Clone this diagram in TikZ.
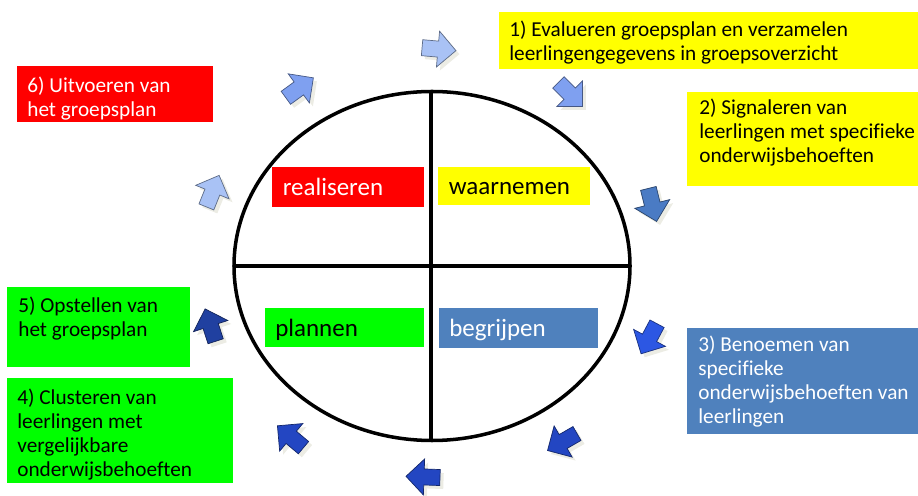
\documentclass[tikz,border=0pt]{standalone}
\usepackage{fontspec}
\setmainfont{Carlito}[Ligatures=NoCommon]
\definecolor{PlanRed}{HTML}{FF0000}
\definecolor{PlanYellow}{HTML}{FFFF00}
\definecolor{PlanGreen}{HTML}{00FF00}
\definecolor{PlanSteel}{HTML}{4F81BD}
\definecolor{ArrowPale}{HTML}{A9C2F5}
\definecolor{ArrowLight}{HTML}{7FA0F0}
\definecolor{ArrowSteel}{HTML}{4A7BC4}
\definecolor{ArrowBright}{HTML}{2C57E3}
\definecolor{ArrowRoyal}{HTML}{2346C2}
\definecolor{ArrowDeep}{HTML}{2040A0}
\definecolor{ArrowShade}{HTML}{ECECE4}

\begin{document}
\begin{tikzpicture}[font=\fontsize{12.1}{13.6}\selectfont,
  stage/.style={anchor=north west,align=left,inner sep=0pt},
  phase/.style={anchor=base west,inner sep=0pt,font=\fontsize{14.2}{17}\selectfont}]
\useasboundingbox (0,0) rectangle (18.36,9.9);
% circle with four quadrants
\draw[line width=2pt] (8.64,4.58) ellipse (3.96 and 3.49);
\draw[line width=2pt] (8.62,8.07) -- (8.62,1.09);
\draw[line width=2pt] (4.68,4.58) -- (12.60,4.58);
\fill[PlanRed] (5.44,6.56) rectangle (8.48,5.76);
\node[phase,text=white] (realise) at (5.65,5.99) {realiseren};
\fill[PlanYellow] (8.76,6.56) rectangle (11.80,5.80);
\node[phase] (observe) at (8.97,6.01) {waarnemen};
\fill[PlanGreen] (5.30,3.74) rectangle (8.48,2.96);
\node[phase] (plan) at (5.50,3.17) {plannen};
\fill[PlanSteel] (8.78,3.74) rectangle (11.96,2.94);
\node[phase,text=white] (grasp) at (8.98,3.16) {begrijpen};
% steps of the cycle
\fill[PlanYellow] (9.98,9.66) rectangle (18.36,8.52);
\node[stage] (evaluate) at (10.18,9.48) {1) Evalueren groepsplan en verzamelen\\leerlingengegevens in groepsoverzicht};
\fill[PlanYellow] (13.74,8.06) rectangle (18.36,6.18);
\node[stage] (signal) at (13.98,7.92) {2) Signaleren van\\leerlingen met specifieke\\onderwijsbehoeften};
\fill[PlanSteel] (13.74,3.34) rectangle (18.36,1.22);
\node[stage,text=white] (name) at (13.96,3.18) {3) Benoemen van\\specifieke\\onderwijsbehoeften van\\leerlingen};
\fill[PlanGreen] (0.14,2.34) rectangle (4.66,0.24);
\node[stage] (cluster) at (0.34,2.12) {4) Clusteren van\\leerlingen met\\vergelijkbare\\onderwijsbehoeften};
\fill[PlanGreen] (0.14,4.16) rectangle (3.80,2.56);
\node[stage] (draft) at (0.36,3.96) {5) Opstellen van\\het groepsplan};
\fill[PlanRed] (0.34,8.58) rectangle (4.26,7.46);
\node[stage,text=white] (execute) at (0.54,8.36) {6) Uitvoeren van\\het groepsplan};
% block arrows round the circle
\foreach \x/\y/\a/\c in {8.74/8.92/-5/ArrowPale, 11.38/8.04/-45/ArrowLight,
    13.04/5.84/-76/ArrowSteel, 13.00/3.16/-118/ArrowBright,
    11.28/1.08/-150/ArrowRoyal, 8.50/0.36/178/ArrowRoyal,
    5.84/1.14/140/ArrowRoyal, 4.22/3.36/108/ArrowDeep,
    4.24/6.04/68/ArrowPale, 5.96/8.12/36/ArrowLight} {
  \fill[ArrowShade,shift={(\x+0.07,\y-0.07)},rotate=\a]
    (-0.30,0.16) -- (0.02,0.16) -- (0.02,0.36) -- (0.38,0) -- (0.02,-0.36) -- (0.02,-0.16) -- (-0.30,-0.16) -- cycle;
  \filldraw[fill=\c,draw=\c!55!black,line width=0.4pt,shift={(\x,\y)},rotate=\a]
    (-0.30,0.16) -- (0.02,0.16) -- (0.02,0.36) -- (0.38,0) -- (0.02,-0.36) -- (0.02,-0.16) -- (-0.30,-0.16) -- cycle;
}
\end{tikzpicture}
\end{document}
